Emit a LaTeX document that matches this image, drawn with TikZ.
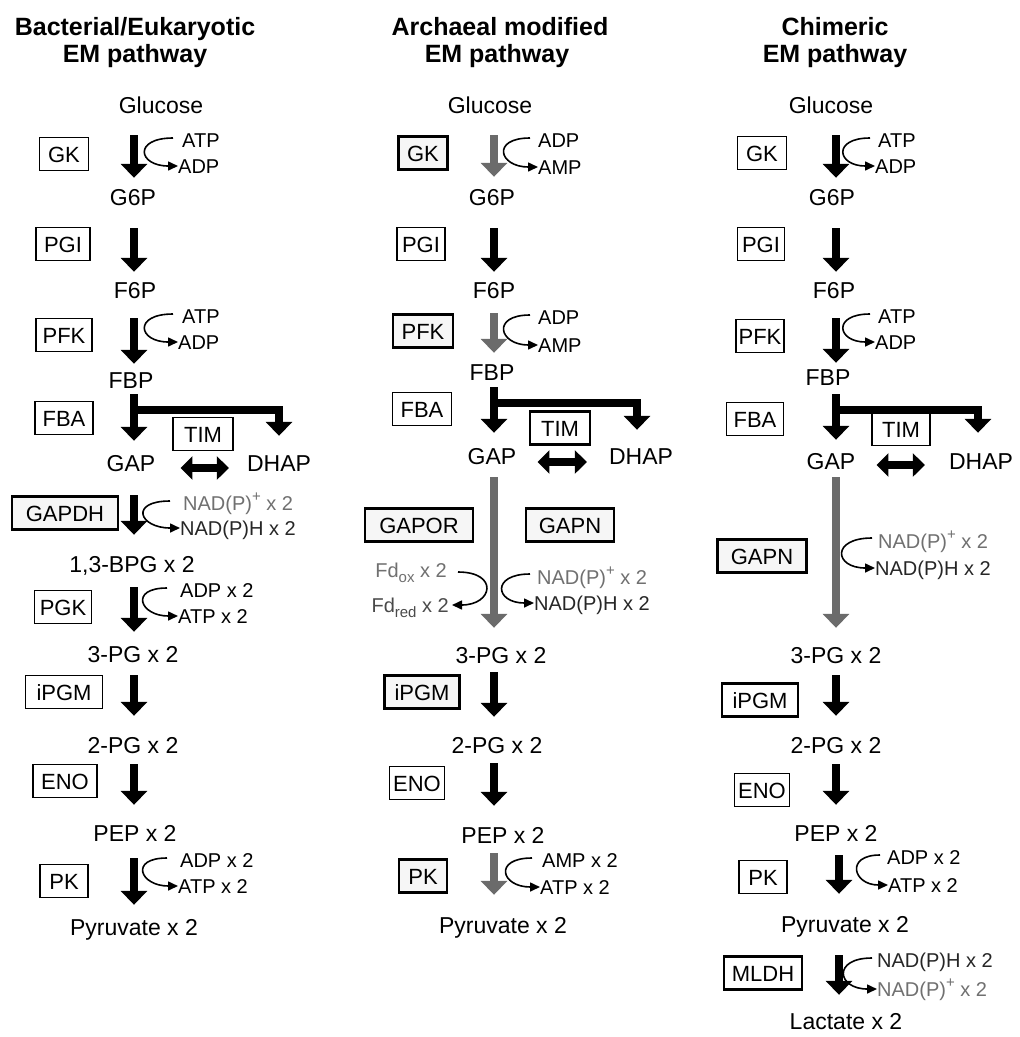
\documentclass[tikz,border=0pt]{standalone}
\usepackage{fontspec}
\setmainfont{Liberation Sans}
\usetikzlibrary{arrows.meta,calc}
\definecolor{arrgray}{HTML}{6B6B6B}
\definecolor{ltxt}{HTML}{707070}
\definecolor{dtxt}{HTML}{262626}
\definecolor{fdredc}{HTML}{4A4A4A}
\newcommand{\supplus}{\raisebox{0.42em}{\fontsize{15}{15}\selectfont +}}
\newcommand{\mysub}[1]{\raisebox{-0.28em}{\fontsize{15}{15}\selectfont #1}}
\begin{document}
\begin{tikzpicture}[x=1pt,y=-1pt,
  hdr/.style={font=\bfseries\fontsize{25}{30}\selectfont, inner sep=0pt, text height=18pt, text depth=0pt},
  met/.style={font=\fontsize{23}{27}\selectfont, inner sep=0pt, text height=17pt, text depth=0pt},
  cof/.style={font=\fontsize{20}{24}\selectfont, inner sep=0pt, text height=14pt, text depth=0pt, anchor=west},
  cofE/.style={cof, anchor=east},
  enz/.style={draw, line width=1.6pt, font=\fontsize{22}{26}\selectfont, inner sep=0pt, minimum height=33pt, text height=16pt, text depth=0pt},
  enzT/.style={enz, line width=2.4pt},
  enzS/.style={enz, line width=2.4pt, fill=gray!7},
  rx/.style={line width=8pt, line join=miter, -{Triangle[width=26pt,length=14pt]}},
  dbl/.style={line width=8pt, {Triangle[width=23pt,length=12pt]}-{Triangle[width=23pt,length=12pt]}},
  cur/.style={line width=1.6pt, -{Triangle[width=9pt,length=10pt]}}
]
\useasboundingbox (0,0) rectangle (1020,1037);
\fill[white] (0,0) rectangle (1020,1037);

% axes
\coordinate (xA) at (134,0);
\coordinate (xB) at (494,0);
\coordinate (xC) at (836,0);
\coordinate (xC2) at (839,0);

% headers
\node[hdr] (h1a) at (135,26) {Bacterial/Eukaryotic};
\node[hdr] (h1b) at (135,53) {EM pathway};
\node[hdr] (h2a) at (500,26) {Archaeal modified};
\node[hdr] (h2b) at (497,53) {EM pathway};
\node[hdr] (h3a) at (835,26) {Chimeric};
\node[hdr] (h3b) at (835,53) {EM pathway};

%% ================= Column 1 =================
\node[met] (glcA) at (161,105) {Glucose};
\node[met] (g6pA) at (133,197) {G6P};
\node[met] (f6pA) at (135,290) {F6P};
\node[met] (fbpA) at (131,380) {FBP};
\node[met] (gapA) at (131,463) {GAP};
\node[met] (dhapA) at (279,463) {DHAP};
\node[met] (bpgA) at (132,564) {1,3-BPG x 2};
\node[met] (pg3A) at (133,654) {3-PG x 2};
\node[met] (pg2A) at (133,745) {2-PG x 2};
\node[met] (pepA) at (135,833) {PEP x 2};
\node[met] (pyrA) at (134,927) {Pyruvate x 2};

\node[enz, minimum width=49pt] (gkA) at (64,154) {GK};
\node[enz, minimum width=54pt] (pgiA) at (63,244) {PGI};
\node[enz, minimum width=56pt] (pfkA) at (64,335) {PFK};
\node[enz, minimum width=58pt] (fbaA) at (64,418) {FBA};
\node[enz, minimum width=60pt] (timA) at (203,434) {TIM};
\node[enzS, minimum width=106pt] (gapdhA) at (65,513) {GAPDH};
\node[enz, minimum width=57pt] (pgkA) at (63,607) {PGK};
\node[enz, minimum width=77pt] (ipgmA) at (64,692) {iPGM};
\node[enz, minimum width=64pt] (enoA) at (65,781) {ENO};
\node[enz, minimum width=48pt] (pkA) at (64,881) {PK};

\node[cof] (atpA1) at (182,140) {ATP};
\node[cof] (adpA1) at (178,166) {ADP};
\node[cof] (atpA2) at (182,316) {ATP};
\node[cof] (adpA2) at (178,342) {ADP};
\node[cof, ltxt] (nadA1) at (183,503) {NAD(P)\supplus{} x 2};
\node[cof, dtxt] (nadhA1) at (180,528) {NAD(P)H x 2};
\node[cof] (adpA3) at (180,590) {ADP x 2};
\node[cof] (atpA3) at (178,616) {ATP x 2};
\node[cof] (adpA4) at (180,860) {ADP x 2};
\node[cof] (atpA4) at (178,886) {ATP x 2};

\draw[rx, shorten <=21.5pt, shorten >=10.5pt] (glcA.south -| xA) -- (g6pA.north -| xA);
\draw[rx, shorten <=22.5pt, shorten >=9.5pt] (g6pA.south -| xA) -- (f6pA.north -| xA);
\draw[rx, shorten <=19.5pt, shorten >=7.5pt] (f6pA.south -| xA) -- (fbpA.north -| xA);
\draw[rx, shorten <=5.5pt, shorten >=13.5pt] (fbpA.south -| xA) -- (gapA.north -| xA);
\coordinate (brA) at (134,410);
\draw[rx, shorten >=18.5pt] (brA) -- (brA -| dhapA.north) -- (dhapA.north);
\draw[dbl, shorten <=25pt, shorten >=18pt] ([yshift=-5pt]gapA.east) -- ([yshift=-5pt]dhapA.west);
\draw[rx, shorten <=23.5pt, shorten >=20.5pt] (gapA.south -| xA) -- (bpgA.north -| xA);
\draw[rx, shorten <=14.5pt, shorten >=13.5pt] (bpgA.south -| xA) -- (pg3A.north -| xA);
\draw[rx, shorten <=12.5pt, shorten >=20.5pt] (pg3A.south -| xA) -- (pg2A.north -| xA);
\draw[rx, shorten <=10.5pt, shorten >=19.5pt] (pg2A.south -| xA) -- (pepA.north -| xA);
\draw[rx, shorten <=16.5pt, shorten >=13.5pt] (pepA.south -| xA) -- (pyrA.north -| xA);

\draw[cur] ([xshift=-9pt,yshift=2pt]atpA1.west) .. controls +(-40,0) and +(-40,0) .. (adpA1.west);
\draw[cur] ([xshift=-9pt,yshift=2pt]atpA2.west) .. controls +(-40,0) and +(-40,0) .. (adpA2.west);
\draw[cur] ([xshift=-13pt,yshift=2pt]nadA1.west) .. controls +(-41,0) and +(-41,0) .. (nadhA1.west);
\draw[cur] ([xshift=-13pt,yshift=2pt]adpA3.west) .. controls +(-38,0) and +(-38,0) .. (atpA3.west);
\draw[cur] ([xshift=-13pt,yshift=2pt]adpA4.west) .. controls +(-38,0) and +(-38,0) .. (atpA4.west);

%% ================= Column 2 =================
\node[met] (glcB) at (490,105) {Glucose};
\node[met] (g6pB) at (492,197) {G6P};
\node[met] (f6pB) at (494,290) {F6P};
\node[met] (fbpB) at (492,372) {FBP};
\node[met] (gapB) at (492,456) {GAP};
\node[met] (dhapB) at (641,456) {DHAP};
\node[met] (pg3B) at (501,655) {3-PG x 2};
\node[met] (pg2B) at (497,745) {2-PG x 2};
\node[met] (pepB) at (503,835) {PEP x 2};
\node[met] (pyrB) at (503,925) {Pyruvate x 2};

\node[enzS, minimum width=49pt] (gkB) at (423,153) {GK};
\node[enz, minimum width=48pt] (pgiB) at (421,244) {PGI};
\node[enzS, minimum width=60pt] (pfkB) at (423,331) {PFK};
\node[enz, minimum width=59pt] (fbaB) at (422,409) {FBA};
\node[enzT, minimum width=60pt] (timB) at (560,428) {TIM};
\node[enzS, minimum width=108pt] (gaporB) at (419,525) {GAPOR};
\node[enzS, minimum width=88pt] (gapnB) at (570,525) {GAPN};
\node[enzS, minimum width=75pt] (ipgmB) at (422,692) {iPGM};
\node[enz, minimum width=55pt] (enoB) at (417,783) {ENO};
\node[enzS, minimum width=48pt] (pkB) at (423,876) {PK};

\node[cof] (adpB1) at (538,140) {ADP};
\node[cof] (ampB1) at (538,167) {AMP};
\node[cof] (adpB2) at (538,317) {ADP};
\node[cof] (ampB2) at (538,345) {AMP};
\node[cof, ltxt] (nadB) at (537,577) {NAD(P)\supplus{} x 2};
\node[cof, dtxt] (nadhB) at (534,603) {NAD(P)H x 2};
\node[cofE, ltxt] (fdoxB) at (447,570) {Fd\mysub{ox} x 2};
\node[cofE, fdredc] (fdredB) at (449,605) {Fd\mysub{red} x 2};
\node[cof] (ampB3) at (542,860) {AMP x 2};
\node[cof] (atpB3) at (540,887) {ATP x 2};

\draw[rx, arrgray, shorten <=21.5pt, shorten >=11.5pt] (glcB.south -| xB) -- (g6pB.north -| xB);
\draw[rx, shorten <=22.5pt, shorten >=9.5pt] (g6pB.south -| xB) -- (f6pB.north -| xB);
\draw[rx, arrgray, shorten <=14.5pt, shorten >=10.5pt] (f6pB.south -| xB) -- (fbpB.north -| xB);
\draw[rx, shorten <=6.5pt, shorten >=14.5pt] (fbpB.south -| xB) -- (gapB.north -| xB);
\coordinate (brB) at (494,403);
\coordinate (brB2) at (637,403);
\draw[rx, shorten >=17.5pt] (brB) -- (brB2) -- (brB2 |- dhapB.north);
\draw[dbl, shorten <=21pt, shorten >=22pt] ([yshift=-6pt]gapB.east) -- ([yshift=-6pt]dhapB.west);
\draw[rx, arrgray, shorten <=12.5pt, shorten >=18.5pt] (gapB.south -| xB) -- (pg3B.north -| xB);
\draw[rx, shorten <=8.5pt, shorten >=19.5pt] (pg3B.south -| xB) -- (pg2B.north -| xB);
\draw[rx, shorten <=9.5pt, shorten >=20.5pt] (pg2B.south -| xB) -- (pepB.north -| xB);
\draw[rx, arrgray, shorten <=9.5pt, shorten >=21.5pt] (pepB.south -| xB) -- (pyrB.north -| xB);

\draw[cur] ([xshift=-8pt,yshift=2pt]adpB1.west) .. controls +(-39,0) and +(-39,0) .. (ampB1.west);
\draw[cur] ([xshift=-8pt,yshift=2pt]adpB2.west) .. controls +(-39,0) and +(-39,0) .. (ampB2.west);
\draw[cur] ([xshift=-7pt,yshift=3pt]nadB.west) .. controls +(-39,0) and +(-39,0) .. (nadhB.west);
\draw[cur] ([xshift=11pt,yshift=-2pt]fdoxB.east) .. controls +(41,0) and +(41,0) .. ([xshift=3pt]fdredB.east);
\draw[cur] ([xshift=-10pt,yshift=2pt]ampB3.west) .. controls +(-39,0) and +(-39,0) .. (atpB3.west);

%% ================= Column 3 =================
\node[met] (glcC) at (831,105) {Glucose};
\node[met] (g6pC) at (832,197) {G6P};
\node[met] (f6pC) at (834,290) {F6P};
\node[met] (fbpC) at (828,377) {FBP};
\node[met] (gapC) at (831,461) {GAP};
\node[met] (dhapC) at (981,461) {DHAP};
\node[met] (pg3C) at (836,655) {3-PG x 2};
\node[met] (pg2C) at (836,745) {2-PG x 2};
\node[met] (pepC) at (836,833) {PEP x 2};
\node[met] (pyrC) at (845,924) {Pyruvate x 2};
\node[met] (lacC) at (846,1021) {Lactate x 2};

\node[enz, minimum width=49pt] (gkC) at (762,153) {GK};
\node[enz, minimum width=47pt] (pgiC) at (761,244) {PGI};
\node[enz, minimum width=48pt] (pfkC) at (760,336) {PFK};
\node[enz, minimum width=57pt] (fbaC) at (755,419) {FBA};
\node[enz, minimum width=58pt] (timC) at (901,429) {TIM};
\node[enzS, minimum width=89pt] (gapnC) at (762,556) {GAPN};
\node[enzT, minimum width=76pt] (ipgmC) at (760,700) {iPGM};
\node[enz, minimum width=55pt] (enoC) at (762,790) {ENO};
\node[enz, minimum width=48pt] (pkC) at (763,877) {PK};
\node[enzT, minimum width=78pt] (mldhC) at (763,973) {MLDH};

\node[cof] (atpC1) at (878,140) {ATP};
\node[cof] (adpC1) at (875,166) {ADP};
\node[cof] (atpC2) at (878,316) {ATP};
\node[cof] (adpC2) at (875,342) {ADP};
\node[cof, ltxt] (nadC) at (878,541) {NAD(P)\supplus{} x 2};
\node[cof, dtxt] (nadhC) at (875,568) {NAD(P)H x 2};
\node[cof] (adpC3) at (887,857) {ADP x 2};
\node[cof] (atpC3) at (888,885) {ATP x 2};
\node[cof, dtxt] (nadhC2) at (877,960) {NAD(P)H x 2};
\node[cof, ltxt] (nadC2) at (877,989) {NAD(P)\supplus{} x 2};

\draw[rx, shorten <=21.5pt, shorten >=10.5pt] (glcC.south -| xC) -- (g6pC.north -| xC);
\draw[rx, shorten <=22.5pt, shorten >=9.5pt] (g6pC.south -| xC) -- (f6pC.north -| xC);
\draw[rx, shorten <=19.5pt, shorten >=5.5pt] (f6pC.south -| xC) -- (fbpC.north -| xC);
\draw[rx, shorten <=8.5pt, shorten >=12.5pt] (fbpC.south -| xC) -- (gapC.north -| xC);
\coordinate (brC) at (836,410);
\coordinate (brC2) at (978,410);
\draw[rx, shorten >=19.5pt] (brC) -- (brC2) -- (brC2 |- dhapC.north);
\draw[dbl, shorten <=21pt, shorten >=24pt] ([yshift=-4pt]gapC.east) -- ([yshift=-4pt]dhapC.west);
\draw[rx, arrgray, shorten <=7.5pt, shorten >=18.5pt] (gapC.south -| xC) -- (pg3C.north -| xC);
\draw[rx, shorten <=11.5pt, shorten >=20.5pt] (pg3C.south -| xC) -- (pg2C.north -| xC);
\draw[rx, shorten <=10.5pt, shorten >=19.5pt] (pg2C.south -| xC) -- (pepC.north -| xC);
\draw[rx, shorten <=13.5pt, shorten >=21.5pt] (pepC.south -| xC2) -- (pyrC.north -| xC2);
\draw[rx, shorten <=22.5pt, shorten >=17.5pt] (pyrC.south -| xC2) -- (lacC.north -| xC2);

\draw[cur] ([xshift=-8pt,yshift=2pt]atpC1.west) .. controls +(-38,0) and +(-38,0) .. (adpC1.west);
\draw[cur] ([xshift=-8pt,yshift=2pt]atpC2.west) .. controls +(-38,0) and +(-38,0) .. (adpC2.west);
\draw[cur] ([xshift=-6pt,yshift=3pt]nadC.west) .. controls +(-41,0) and +(-41,0) .. (nadhC.west);
\draw[cur] ([xshift=-7pt,yshift=2pt]adpC3.west) .. controls +(-35,0) and +(-35,0) .. (atpC3.west);
\draw[cur] ([xshift=-5pt,yshift=2pt]nadhC2.west) .. controls +(-40,0) and +(-40,0) .. (nadC2.west);
\end{tikzpicture}
\end{document}
